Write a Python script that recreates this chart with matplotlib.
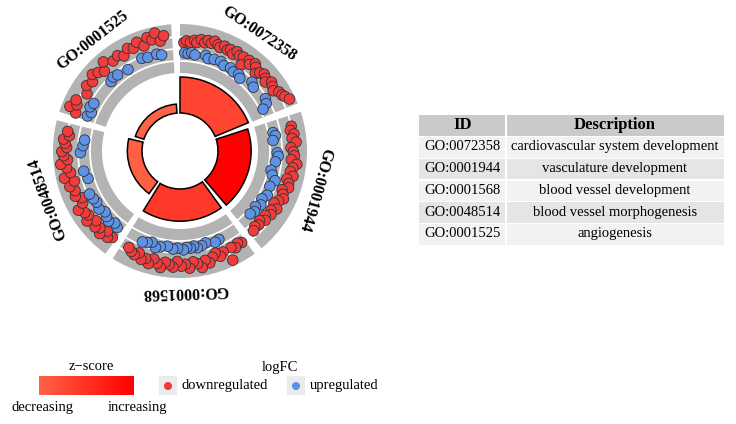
import numpy as np
import matplotlib.pyplot as plt
from matplotlib.patches import Wedge, Rectangle
from matplotlib.colors import LinearSegmentedColormap

plt.rcParams['font.family'] = ['Liberation Serif', 'DejaVu Serif']

# GO terms shown in the circle and the table
terms = ['GO:0072358', 'GO:0001944', 'GO:0001568', 'GO:0048514', 'GO:0001525']
descriptions = ['cardiovascular system development', 'vasculature development',
                'blood vessel development', 'blood vessel morphogenesis', 'angiogenesis']
counts = [76, 70, 68, 31, 19]
zscores = [3.7, 7.4, 4.3, 2.2, 2.0]

# genes of each term: position along the segment (0..1) and logFC
pos_0072358 = [0.03, 0.05, 0.08, 0.11, 0.13, 0.16, 0.19, 0.21, 0.24, 0.26, 0.29, 0.31, 0.34, 0.37,
               0.39, 0.42, 0.44, 0.47, 0.50, 0.52, 0.55, 0.57, 0.60, 0.62, 0.65, 0.67, 0.70, 0.73,
               0.75, 0.78, 0.81, 0.84, 0.87, 0.90, 0.92, 0.95,
               0.04, 0.07, 0.10, 0.13, 0.22, 0.25, 0.30, 0.36, 0.40, 0.46, 0.50, 0.55, 0.58, 0.68,
               0.72, 0.86, 0.90, 0.93]
lfc_0072358 = [-1.1, -1.4, -1.2, -1.6, -1.3, -1.9, -1.5, -2.0, -1.7, -2.2, -1.8, -1.5, -2.0, -1.6,
               -1.9, -1.4, -2.1, -1.7, -1.9, -0.6, -2.0, -1.5, -2.2, -1.8, -1.0, -1.6, -2.0, -1.7,
               -1.3, -2.1, -1.8, -1.5, -2.2, -2.4, -2.7, -3.2,
               0.6, 0.7, 0.5, 0.8, 0.5, 0.9, 0.7, 0.6, 1.0, 0.8, 1.1, 0.9, 1.3, 0.4,
               0.8, 0.3, 0.6, 1.5]

pos_0001944 = [0.08, 0.11, 0.14, 0.17, 0.20, 0.24, 0.27, 0.30, 0.33, 0.36, 0.39, 0.42, 0.45, 0.48,
               0.51, 0.54, 0.57, 0.60, 0.63, 0.66, 0.69, 0.72, 0.75, 0.78, 0.81, 0.84, 0.87, 0.90,
               0.93, 0.96,
               0.10, 0.13, 0.17, 0.28, 0.31, 0.36, 0.44, 0.48, 0.52, 0.58, 0.66, 0.71, 0.76, 0.80,
               0.84, 0.88]
lfc_0001944 = [-2.0, -1.7, -2.2, -1.8, -2.4, -1.5, -1.9, -2.1, -1.6, -2.6, -2.0, -1.7, -2.3, -1.4,
               -1.9, -2.1, -1.2, -1.6, -2.0, -1.4, -0.9, -1.8, -1.1, -1.5, -0.8, -1.3, -0.6, -1.0,
               -0.7, -1.1,
               1.2, 0.9, 1.4, 0.8, 0.6, 1.0, 1.5, 1.1, 0.4, 0.9, 0.7, 1.2, 0.8, 1.4,
               1.0, 1.3]

pos_0001568 = [0.03, 0.06, 0.09, 0.12, 0.15, 0.19, 0.22, 0.25, 0.28, 0.31, 0.34, 0.37, 0.40, 0.43,
               0.46, 0.49, 0.52, 0.55, 0.58, 0.61, 0.64, 0.67, 0.70, 0.73, 0.76, 0.79, 0.82, 0.85,
               0.88, 0.91, 0.94,
               0.18, 0.22, 0.30, 0.34, 0.38, 0.41, 0.44, 0.47, 0.50, 0.55, 0.59, 0.64, 0.70, 0.74,
               0.78, 0.82, 0.86]
lfc_0001568 = [-1.4, -1.1, -1.6, -1.2, -3.2, -1.3, -1.8, -1.0, -1.5, -2.3, -1.7, -2.8, -2.0, -1.6,
               -2.6, -1.9, -2.2, -1.4, -2.4, -2.0, -1.7, -2.7, -2.1, -1.5, -2.5, -1.8, -2.2, -1.3,
               -1.9, -1.6, -1.2,
               0.9, 0.7, 1.1, 0.8, 0.6, 1.0, 0.7, 0.9, 0.5, 0.8, 0.6, 1.0, 0.7, 0.4,
               1.1, 0.8, 0.6]

pos_0048514 = [0.03, 0.06, 0.09, 0.12, 0.15, 0.18, 0.21, 0.25, 0.28, 0.31, 0.35, 0.38, 0.42, 0.45,
               0.49, 0.53, 0.56, 0.60, 0.63, 0.67, 0.70, 0.73, 0.76, 0.79, 0.82, 0.85, 0.88, 0.91,
               0.94,
               0.05, 0.09, 0.14, 0.18, 0.22, 0.27, 0.33, 0.37, 0.42, 0.55, 0.62, 0.78, 0.84, 0.89]
lfc_0048514 = [-1.3, -1.8, -1.0, -2.2, -1.5, -2.0, -1.2, -2.4, -1.6, -1.9, -2.6, -1.4, -1.1, -2.0,
               -1.7, -2.3, -1.3, -2.8, -1.6, -2.1, -3.0, -1.8, -2.4, -2.7, -1.9, -2.2, -2.5, -1.6,
               -2.0,
               0.5, 0.8, 0.3, 0.6, 0.9, 0.4, 0.7, 0.5, 0.3, 1.0, 0.6, 0.4, 0.8, 1.0]

pos_0001525 = [0.03, 0.06, 0.09, 0.12, 0.20, 0.25, 0.30, 0.34, 0.38, 0.42, 0.46, 0.52, 0.57, 0.61,
               0.66, 0.70, 0.74, 0.78, 0.82, 0.85, 0.88, 0.91, 0.94,
               0.04, 0.08, 0.12, 0.16, 0.40, 0.44, 0.48, 0.58, 0.73, 0.78, 0.86, 0.90]
lfc_0001525 = [-1.5, -2.8, -1.8, -2.3, -1.2, -2.0, -1.6, -2.4, -1.9, -1.3, -2.6, -1.7, -2.0, -1.4,
               -2.2, -1.8, -2.5, -1.5, -2.7, -2.1, -3.1, -1.6, -2.4,
               0.5, 0.9, 0.3, 0.6, 0.7, 0.4, 0.6, 0.9, 0.3, 0.5, 0.4, 0.7]

gene_pos = [pos_0072358, pos_0001944, pos_0001568, pos_0048514, pos_0001525]
gene_lfc = [lfc_0072358, lfc_0001944, lfc_0001568, lfc_0048514, lfc_0001525]

# layout (pixel units, y measured from the bottom)
W, H = 736, 424
cx, cy = 180, H - 151
r_in, bar_max = 38, 36
grey_in, grey_out = 78, 127
span = 360 / len(terms)
gap_bar, gap_grey = 4.5, 4.0
lfc_lines = [2, 0, -2]
red, blue, grey = '#F23B3B', '#5E92E6', '#B3B3B3'
zcmap = LinearSegmentedColormap.from_list('z', ['#FF6347', '#FF0000'])
zmin, zmax = min(zscores), max(zscores)


def lfc_to_r(v):
    return 102 - 6 * np.asarray(v)


def py(y):
    return H - y


fig = plt.figure(figsize=(W / 100, H / 100), dpi=100)
ax = fig.add_axes([0, 0, 1, 1])

for i, term in enumerate(terms):
    start = 90 - span * i
    # outer grey track with white logFC lines
    ax.add_patch(Wedge((cx, cy), grey_out, start - span + gap_grey, start,
                       width=grey_out - grey_in, facecolor=grey, edgecolor='none'))
    th = np.radians(np.linspace(start - span + gap_grey, start, 60))
    for v in lfc_lines:
        r = lfc_to_r(v)
        ax.plot(cx + r * np.cos(th), cy + r * np.sin(th), color='white', lw=1.3)
    # inner bar: height ~ count, colour ~ z-score
    h = bar_max * counts[i] / max(counts)
    col = zcmap((zscores[i] - zmin) / (zmax - zmin))
    ax.add_patch(Wedge((cx, cy), r_in + h, start - span + gap_bar, start, width=h,
                       facecolor=col, edgecolor='black', lw=1.1))
    # genes
    t = np.asarray(gene_pos[i])
    v = np.asarray(gene_lfc[i])
    ang = np.radians(start - t * (span - gap_grey))
    r = lfc_to_r(v)
    cols = np.where(v < 0, red, blue)
    ax.scatter(cx + r * np.cos(ang), cy + r * np.sin(ang), s=58, c=cols,
               edgecolors='#333333', linewidths=0.6, zorder=3)
    # term label
    mid = start - (span - gap_grey) / 2
    ax.text(cx + 141 * np.cos(np.radians(mid)), cy + 141 * np.sin(np.radians(mid)), term,
            rotation=mid - 90, rotation_mode='anchor', ha='center', va='center',
            fontsize=11.5, fontweight='bold')

# table
tx0, tx1, tx2 = 419, 506, 724
ty0, row_h = 114, 21.8
header_col, row_cols = '#CACACA', ['#F2F2F2', '#E5E5E5']
ax.add_patch(Rectangle((tx0, py(ty0 + row_h)), tx1 - tx0 - 1, row_h - 1, fc=header_col, ec='none'))
ax.add_patch(Rectangle((tx1 + 1, py(ty0 + row_h)), tx2 - tx1 - 1, row_h - 1, fc=header_col, ec='none'))
ax.text((tx0 + tx1) / 2, py(ty0 + row_h / 2), 'ID', ha='center', va='center',
        fontsize=12, fontweight='bold')
ax.text((tx1 + tx2) / 2, py(ty0 + row_h / 2), 'Description', ha='center', va='center',
        fontsize=12, fontweight='bold')
for j, (term, desc) in enumerate(zip(terms, descriptions)):
    top = ty0 + row_h * (j + 1)
    fc = row_cols[j % 2]
    ax.add_patch(Rectangle((tx0, py(top + row_h)), tx1 - tx0 - 1, row_h - 1.2, fc=fc, ec='none'))
    ax.add_patch(Rectangle((tx1 + 1, py(top + row_h)), tx2 - tx1 - 1, row_h - 1.2, fc=fc, ec='none'))
    ax.text((tx0 + tx1) / 2, py(top + row_h / 2), term, ha='center', va='center', fontsize=10.5)
    ax.text((tx1 + tx2) / 2, py(top + row_h / 2), desc, ha='center', va='center', fontsize=10.5)

# z-score legend
grad = np.linspace(0, 1, 256).reshape(1, -1)
ax.imshow(grad, cmap=zcmap, extent=[39, 134, py(395), py(376)], aspect='auto', zorder=2)
ax.text(91, py(367), 'z\u2212score', ha='center', va='center', fontsize=10.5)
ax.text(42, py(408), 'decreasing', ha='center', va='center', fontsize=10.5)
ax.text(137, py(408), 'increasing', ha='center', va='center', fontsize=10.5)

# logFC legend
ax.text(280, py(367), 'logFC', ha='center', va='center', fontsize=10.5)
for kx, col, lab in [(159, red, 'downregulated'), (287, blue, 'upregulated')]:
    ax.add_patch(Rectangle((kx, py(395)), 18, 19, fc='#EBEBEB', ec='none'))
    ax.scatter([kx + 9], [py(386)], s=34, c=col, edgecolors='none', zorder=3)
    ax.text(kx + 23, py(386), lab, ha='left', va='center', fontsize=10.5)

ax.set_xlim(0, W)
ax.set_ylim(0, H)
ax.set_aspect('equal')
ax.axis('off')
fig.savefig('out.png', dpi=100)
